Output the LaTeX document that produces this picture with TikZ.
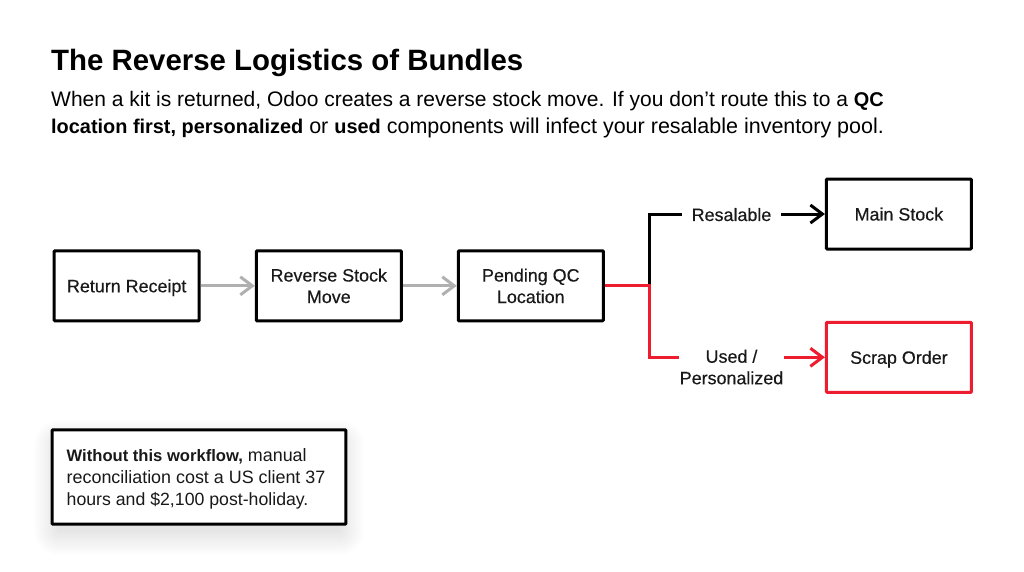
\documentclass[tikz,border=0pt]{standalone}
\usepackage{fontspec}
\setmainfont{Liberation Sans}
\newfontfamily\medfont{Liberation Sans}[FakeBold=0.35]
\usetikzlibrary{arrows.meta}
\definecolor{brred}{HTML}{ED1C2E}
\definecolor{arrgray}{HTML}{B0B0B0}
\newcommand{\subb}[1]{{\fontsize{19.9}{27}\selectfont\bfseries #1}}
\newcommand{\noteb}[1]{{\fontsize{16.6}{22}\selectfont\bfseries #1}}
\tikzset{
  flowbox/.style={draw=black, line width=3pt, fill=white, minimum width=145pt, minimum height=70pt, align=center, rounded corners=0.8pt, inner sep=0pt, text depth=0pt, font=\fontsize{17.9}{21.5}\selectfont\medfont, text=black!90},
  redbox/.style={flowbox, draw=brred},
  branchlabel/.style={align=center, inner sep=0pt, text depth=0pt, font=\fontsize{17.9}{21.5}\selectfont\medfont, text=black!90},
  link/.style={line width=3pt, line join=miter},
  tip/.style={-{Straight Barb[length=12pt,width=18pt,line width=3pt]}},
  grayarrow/.style={link, arrgray, tip},
  blackarrow/.style={link, black, tip},
  redarrow/.style={link, brred, tip},
  titletext/.style={anchor=base west, inner sep=0pt, font=\fontsize{29.4}{36}\selectfont\bfseries, text=black},
  subtext/.style={anchor=base west, inner sep=0pt, font=\fontsize{21}{27}\selectfont, text=black},
  subtextwide/.style={subtext, font=\fontsize{21.5}{27}\selectfont},
  notebox/.style={draw=black, line width=3pt, fill=white, minimum width=293.6pt, minimum height=94.4pt, rounded corners=0.8pt, inner sep=0pt},
  notetext/.style={anchor=base west, inner sep=0pt, font=\fontsize{17.9}{22}\selectfont, text=black!90},
  notetextnarrow/.style={notetext, font=\fontsize{17.7}{22}\selectfont},
}
\begin{document}
\begin{tikzpicture}[x=1pt,y=-1pt]
\useasboundingbox (0,0) rectangle (1024,571);
\fill[white] (0,0) rectangle (1024,571);
% heading
\node[titletext] (title) at (51,70.5) {The Reverse Logistics of Bundles};
\node[subtext] (sub1) at (51,106.5) {When a kit is returned, Odoo creates a reverse stock move. If you don’t route this to a \subb{QC}};
\node[subtextwide] (sub2) at (51,133.5) {\subb{location first, personalized} or \subb{used} components will infect your resalable inventory pool.};
% flow boxes
\node[flowbox] (receipt) at (126.7,285.8) {Return Receipt};
\node[flowbox] (reverse) at (328.8,285.8) {Reverse Stock\\Move};
\node[flowbox] (pending) at (530.8,285.8) {Pending QC\\Location};
\node[flowbox] (main) at (898.9,214) {Main Stock};
\node[redbox] (scrap) at (898.9,357.3) {Scrap Order};
% branch labels
\node[branchlabel] (resalable) at (731.5,214.5) {Resalable};
\node[branchlabel] (used) at (731.5,367) {Used /\\Personalized};
\coordinate (junction) at (649,285.8);
\coordinate (resin) at (682,214);
\coordinate (resout) at (781,214);
\coordinate (usedin) at (679,357.3);
\coordinate (usedout) at (784,357.3);
% connectors
\draw[grayarrow] (receipt.east) -- (reverse.west);
\draw[grayarrow] (reverse.east) -- (pending.west);
\draw[link,black] (junction) |- (resin);
\draw[blackarrow] (resout) -- (main.west);
\draw[link,brred] (pending.east) -- (junction) |- (usedin);
\draw[redarrow] (usedout) -- (scrap.west);
% note shadow
\foreach \s in {24,22,...,0}{
  \fill[black,opacity=0.009,rounded corners=\s pt+1pt] (58-\s,444-\s) rectangle (340+\s,531+\s);
}
% note
\node[notebox] (note) at (199,477) {};
\node[notetext] (n1) at (66.5,461.5) {\noteb{Without this workflow,} manual};
\node[notetext] (n2) at (66.5,483.5) {reconciliation cost a US client 37};
\node[notetextnarrow] (n3) at (66.5,505) {hours and \$2,100 post-holiday.};
\end{tikzpicture}
\end{document}
